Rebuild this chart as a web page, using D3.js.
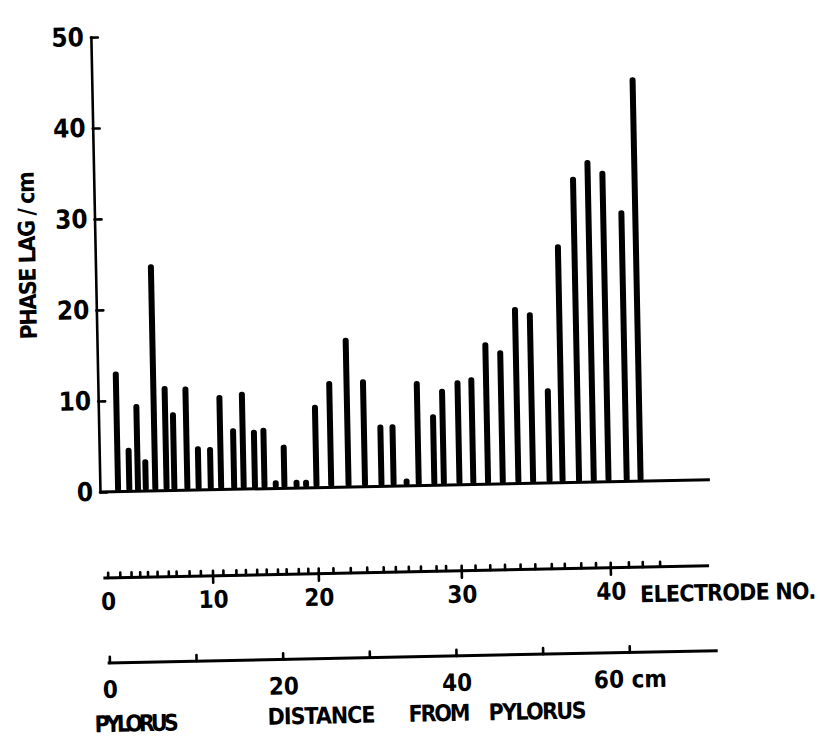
<!DOCTYPE html>
<html>
<head>
<meta charset="utf-8">
<script src="https://cdn.jsdelivr.net/npm/d3@7"></script>
<style>
  body { margin: 0; background: #fff; }
  .chart text { font-family: "DejaVu Sans Condensed", "DejaVu Sans", sans-serif; font-weight: bold; fill: #000; }
</style>
</head>
<body>
<div class="chart"></div>
<script>
// electrodes that carry a bar
const electrodes = [1, 2, 3, 4, 5, 6, 7, 8, 9, 10, 11, 12, 13, 14, 15, 16, 17, 18, 19, 20, 21,
    22, 23, 24, 25, 26, 27, 28, 29, 30, 31, 32, 33, 34, 35, 36, 37, 38, 39, 40, 41, 42]

// position of electrodes 0..43 along the gut (cm from pylorus)
const electrodeCm = [0, 1.4, 2.7, 3.7, 4.6, 5.7, 7.0, 7.9, 9.4, 10.7, 12.1, 13.3, 14.8, 15.9, 17.2,
    18.3, 19.6, 20.6, 22.0, 23.1, 24.3, 26.0, 28.0, 29.9, 31.8, 33.2, 34.7, 36.1, 37.9, 39.0, 40.8,
    42.4, 44.1, 45.8, 47.6, 49.3, 51.2, 52.7, 54.6, 56.3, 58.0, 60.1, 61.7, 63.7]

// phase lag / cm at electrodes 1..42
const phaseLag = [13.2, 4.8, 9.6, 3.5, 24.9, 11.5, 8.6, 11.4, 4.8, 4.7, 10.4, 6.7, 10.7, 6.5, 6.7,
    0.9, 4.8, 0.9, 0.9, 9.1, 11.7, 16.4, 11.8, 6.8, 6.8, 0.8, 11.5, 7.8, 10.6, 11.5, 11.8, 15.6,
    14.7, 19.4, 18.8, 10.4, 26.2, 33.6, 35.4, 34.2, 29.8, 44.4]

const yTicks = [0, 10, 20, 30, 40, 50]
const electrodeLabels = [0, 10, 20, 30, 40]
const cmTicks = [0, 10, 20, 30, 40, 50, 60]
const cmLabels = [0, 20, 40, 60]

const width = 820, height = 742
const baseY = 492, elecY = 578, cmY = 663

const svg = d3.select(".chart")
    .append("svg")
        .attr("width", width)
        .attr("height", height)

// the original scan sits about one degree off level
const g = svg.append("g")
    .attr("transform", "rotate(-1.15,100," + baseY + ")")

const x = d3.scaleLinear().domain([0, 60]).range([106, 626])
const y = d3.scaleLinear().domain([0, 50]).range([baseY, 37])
// electrode number -> x, piecewise through the electrode positions
const ex = d3.scaleLinear()
    .domain(electrodeCm.map((d, i) => i))
    .range(electrodeCm.map(d => x(d)))

function styleAxis(sel, size) {
    sel.attr("font-family", null).attr("font-size", null)
    sel.selectAll("path, line").attr("stroke", "#000").attr("stroke-width", 2.6).attr("stroke-linecap", "round")
    sel.selectAll("text").style("font-size", size + "px")
}

// y axis
g.append("g")
    .attr("transform", "translate(100,0)")
    .call(d3.axisLeft(y).tickValues(yTicks).tickSizeInner(-7).tickSizeOuter(0).tickPadding(7))
    .call(s => styleAxis(s, 26))

g.append("text")
    .attr("transform", "translate(32,254) rotate(-90)")
    .attr("text-anchor", "middle")
    .attr("dominant-baseline", "central")
    .attr("textLength", 168)
    .style("font-size", "23px")
    .text("PHASE LAG / cm")

// bars
g.selectAll(".bar")
    .data(electrodes)
    .join("rect")
        .attr("class", "bar")
        .attr("x", d => ex(d) - 3)
        .attr("y", (d, i) => y(phaseLag[i]))
        .attr("width", 6)
        .attr("height", (d, i) => y(0) - y(phaseLag[i]))
        .attr("rx", 2.8)
        .attr("fill", "#000")

g.append("line")
    .attr("x1", 100).attr("x2", 710)
    .attr("y1", y(0)).attr("y2", y(0))
    .attr("stroke", "#000").attr("stroke-width", 3)

// electrode scale
const elec = g.append("g").attr("transform", "translate(0," + elecY + ")")
elec.append("line")
    .attr("x1", x(-0.5)).attr("x2", x(69.4))
    .attr("stroke", "#000").attr("stroke-width", 3)
elec.append("g")
    .call(d3.axisTop(ex).tickValues(electrodeCm.map((d, i) => i)).tickSize(5).tickFormat(""))
    .call(s => s.select(".domain").remove())
    .call(s => styleAxis(s, 24))
elec.append("g")
    .call(d3.axisBottom(ex).tickValues(electrodeLabels).tickSizeInner(7).tickPadding(8))
    .call(s => s.select(".domain").remove())
    .call(s => s.selectAll(".tick").filter(d => d === 0).select("line").remove())
    .call(s => styleAxis(s, 24))
elec.append("text")
    .attr("x", 638).attr("y", 35)
    .attr("textLength", 176)
    .style("font-size", "23px")
    .text("ELECTRODE NO.")

// distance scale
const dist = g.append("g").attr("transform", "translate(0," + cmY + ")")
dist.append("line")
    .attr("x1", x(-0.2)).attr("x2", x(70.2))
    .attr("stroke", "#000").attr("stroke-width", 3)
dist.append("g")
    .call(d3.axisTop(x).tickValues(cmTicks).tickSize(6).tickFormat(""))
    .call(s => s.select(".domain").remove())
    .call(s => styleAxis(s, 24))
dist.append("g")
    .call(d3.axisBottom(x).tickValues(cmLabels).tickSizeInner(0).tickPadding(18)
        .tickFormat(d => d === 60 ? "60 cm" : d))
    .call(s => s.select(".domain").remove())
    .call(s => styleAxis(s, 24))

dist.append("text").attr("x", 90).attr("y", 69).attr("textLength", 84).style("font-size", "23px").text("PYLORUS")
dist.append("text").attr("x", 263).attr("y", 65).attr("textLength", 108).style("font-size", "23px").text("DISTANCE")
dist.append("text").attr("x", 404).attr("y", 65).attr("textLength", 62).style("font-size", "23px").text("FROM")
dist.append("text").attr("x", 484).attr("y", 65).attr("textLength", 98).style("font-size", "23px").text("PYLORUS")
</script>
</body>
</html>
